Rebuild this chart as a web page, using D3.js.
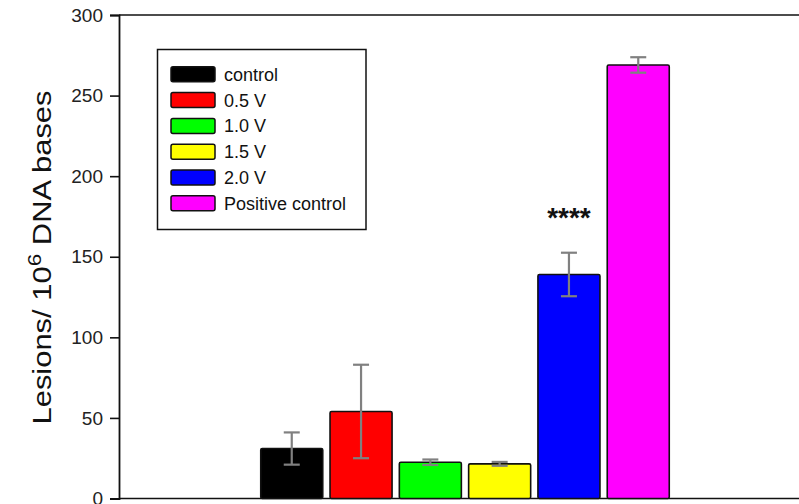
<!DOCTYPE html>
<html>
<head>
<meta charset="utf-8">
<script src="https://cdn.jsdelivr.net/npm/d3@7"></script>
<style>
  html, body { margin: 0; padding: 0; background: #fff; }
  svg { display: block; }
  text { font-family: Arial, "Liberation Sans", sans-serif; }
</style>
</head>
<body>
<svg id="chart" width="799" height="504"></svg>
<script>
// Treatment groups and their measured lesion counts (per 10^6 DNA bases)
const categories = ["control", "0.5 V", "1.0 V", "1.5 V", "2.0 V", "Positive control"];
const means = [31, 54, 22.5, 21.5, 139, 269];
const errors = [10, 29, 1.7, 1.2, 13.5, 4.8];
const colors = ["#000000", "#ff0000", "#00ff00", "#ffff00", "#0000ff", "#ff00ff"];
const yTicks = [0, 50, 100, 150, 200, 250, 300];
const significance = ["", "", "", "", "****", ""];

const svg = d3.select("#chart");

const plot = { left: 119, right: 830, top: 15, bottom: 498.5 };

const y = d3.scaleLinear().domain([0, 300]).range([plot.bottom, plot.top]);
const x = d3.scaleBand()
  .domain(categories)
  .range([257.1, 672.9])
  .paddingInner(0.105)
  .paddingOuter(0.0525);

// Frame: top and bottom lines run off the right edge
svg.append("line")
  .attr("x1", plot.left).attr("x2", plot.right)
  .attr("y1", y(300)).attr("y2", y(300))
  .attr("stroke", "#111").attr("stroke-width", 1.6);
svg.append("line")
  .attr("x1", plot.left).attr("x2", plot.right)
  .attr("y1", y(0)).attr("y2", y(0))
  .attr("stroke", "#111").attr("stroke-width", 1.6);

// Left axis
const yAxis = d3.axisLeft(y).tickValues(yTicks).tickSize(9).tickPadding(7).tickFormat(d3.format("d"));
const gy = svg.append("g").attr("transform", `translate(${plot.left},0)`).call(yAxis);
gy.select(".domain").attr("stroke", "#111").attr("stroke-width", 1.8);
gy.selectAll(".tick line").attr("stroke", "#111").attr("stroke-width", 1.6);
gy.selectAll(".tick text")
  .attr("font-size", 19)
  .attr("fill", "#222")
  .style("font-family", "Arial, 'Liberation Sans', sans-serif");

// Y axis title (drawn slightly elongated along its reading direction)
const title = svg.append("text")
  .attr("transform", `translate(51,257.5) rotate(-90) scale(1.19,1)`)
  .attr("text-anchor", "middle")
  .attr("font-size", 26)
  .attr("fill", "#111");
title.append("tspan").text("Lesions/ 10");
title.append("tspan").attr("font-size", 19).attr("dy", -10).text("6");
title.append("tspan").attr("dy", 10).text(" DNA bases");

// Bars
const rows = categories.map((c, i) => ({ c, m: means[i], e: errors[i], col: colors[i], sig: significance[i] }));

svg.append("g").selectAll("rect")
  .data(rows)
  .join("rect")
  .attr("x", d => x(d.c))
  .attr("y", d => y(d.m))
  .attr("width", x.bandwidth())
  .attr("height", d => y(0) - y(d.m))
  .attr("rx", 1.5)
  .attr("fill", d => d.col)
  .attr("stroke", "#111")
  .attr("stroke-width", 1.6);

// Error bars
const capHalf = 8;
const eg = svg.append("g").attr("stroke", "#808080").attr("stroke-width", 2.2);
rows.forEach(d => {
  const cx = x(d.c) + x.bandwidth() / 2;
  eg.append("line").attr("x1", cx).attr("x2", cx).attr("y1", y(d.m + d.e)).attr("y2", y(d.m - d.e));
  eg.append("line").attr("x1", cx - capHalf).attr("x2", cx + capHalf).attr("y1", y(d.m + d.e)).attr("y2", y(d.m + d.e));
  eg.append("line").attr("x1", cx - capHalf).attr("x2", cx + capHalf).attr("y1", y(d.m - d.e)).attr("y2", y(d.m - d.e));
});

// Significance marks
svg.append("g").selectAll("text")
  .data(rows.filter(d => d.sig))
  .join("text")
  .attr("x", d => x(d.c) + x.bandwidth() / 2)
  .attr("y", d => y(d.m + d.e) - 26)
  .attr("text-anchor", "middle")
  .attr("font-size", 28)
  .attr("font-weight", "bold")
  .attr("fill", "#111")
  .text(d => d.sig);

// Legend
const legend = svg.append("g").attr("transform", "translate(157.5,49.5)");
legend.append("rect")
  .attr("width", 208.5).attr("height", 180)
  .attr("fill", "#fff").attr("stroke", "#111").attr("stroke-width", 1.5);
const item = legend.selectAll("g.item")
  .data(rows)
  .join("g")
  .attr("class", "item")
  .attr("transform", (d, i) => `translate(13.5,${24.8 + i * 25.8})`);
item.append("rect")
  .attr("x", 0).attr("y", -7.5)
  .attr("width", 44).attr("height", 15)
  .attr("rx", 2)
  .attr("fill", d => d.col)
  .attr("stroke", "#111").attr("stroke-width", 1.5);
item.append("text")
  .attr("x", 53).attr("y", 6.5)
  .attr("font-size", 18)
  .attr("fill", "#111")
  .text(d => d.c);
</script>
</body>
</html>
